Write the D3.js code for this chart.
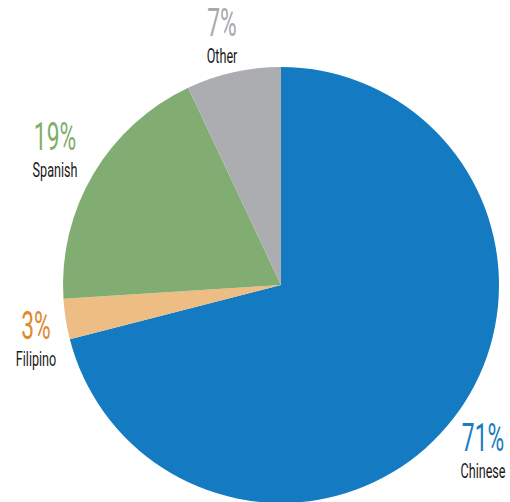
<!DOCTYPE html>
<html>
<head>
<meta charset="utf-8">
<script src="https://cdn.jsdelivr.net/npm/d3@7"></script>
<style>
  body { margin: 0; background: #fff; }
  text { font-family: Roboto, "Liberation Sans", sans-serif; }
</style>
</head>
<body>
<div class="canvas"></div>
<script>
// data
const categories = ['Chinese', 'Filipino', 'Spanish', 'Other'];
const values = [71, 3, 19, 7];
const sliceColors = ['#147bc2', '#eebd84', '#81ad72', '#acadb1'];
const labelColors = ['#1b7cc2', '#e08a2c', '#7fae6e', '#a7a9ac'];
// label anchor spots (pct baseline) per category
const labelPos = [[483, 451], [36, 339], [55, 150], [222, 36]];

const svg = d3.select('.canvas').append('svg')
    .attr('width', 510)
    .attr('height', 502);

const cx = 281, cy = 285, radius = 218;

const pie = d3.pie().sort(null).value(d => d);
const arc = d3.arc().innerRadius(0).outerRadius(radius);

const graph = svg.append('g')
    .attr('transform', `translate(${cx},${cy})`);

graph.selectAll('path')
    .data(pie(values))
    .enter().append('path')
    .attr('d', arc)
    .attr('fill', (d, i) => sliceColors[i]);

// labels - condensed look via horizontal squeeze
const labels = svg.selectAll('g.label')
    .data(categories)
    .enter().append('g')
    .attr('class', 'label')
    .attr('transform', (d, i) => `translate(${labelPos[i][0]},${labelPos[i][1]}) scale(0.6,1)`);

labels.append('text')
    .attr('text-anchor', 'middle')
    .attr('font-size', 38)
    .attr('font-weight', 400)
    .attr('fill', (d, i) => labelColors[i])
    .text((d, i) => `${values[i]}%`);

labels.append('text')
    .attr('text-anchor', 'middle')
    .attr('y', 27)
    .attr('font-size', 21)
    .attr('fill', '#1a1a1a')
    .text(d => d);
</script>
</body>
</html>
